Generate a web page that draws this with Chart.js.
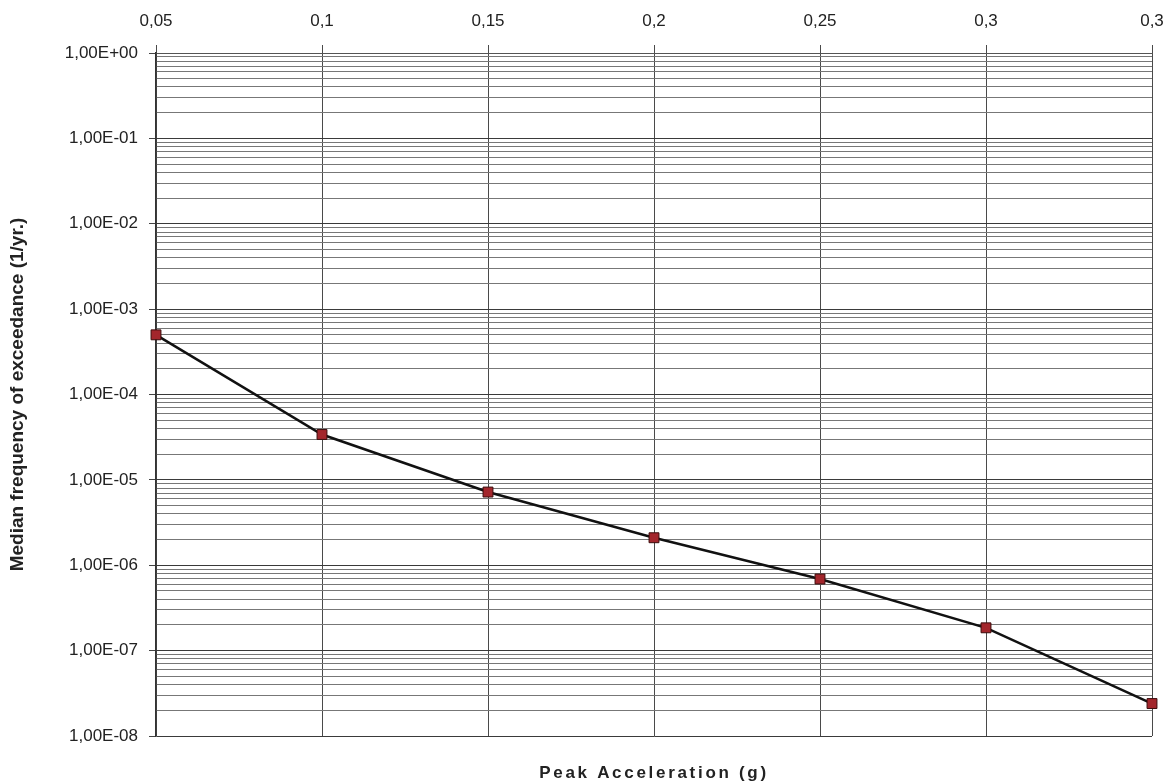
<!DOCTYPE html>
<html>
<head>
<meta charset="utf-8">
<script src="https://cdn.jsdelivr.net/npm/chart.js@4/dist/chart.umd.min.js"></script>
<style>
  html, body { margin: 0; padding: 0; background: #fff; }
  #wrap { width: 1169px; height: 784px; }
</style>
</head>
<body>
<div id="wrap"><canvas id="hazardChart"></canvas></div>
<script>
// peak acceleration labels (as printed on the top axis)
const accelLabels = ["0,05", "0,1", "0,15", "0,2", "0,25", "0,3", "0,3"];
// median frequency of exceedance, 1/yr
const exceedFreq = [5.0e-4, 3.4e-5, 7.2e-6, 2.1e-6, 6.9e-7, 1.85e-7, 2.4e-8];
// y range in decades
const yMin = 1e-8;
const yMax = 1e0;

const fontFam = "'Liberation Sans', Arial, sans-serif";

function isDecade(v) {
  const e = Math.log10(v);
  return Math.abs(e - Math.round(e)) < 1e-6;
}

function fmtSci(v) {
  const e = Math.round(Math.log10(v));
  const sign = e < 0 ? "-" : "+";
  const ee = String(Math.abs(e)).padStart(2, "0");
  return "1,00E" + sign + ee;
}

// x axis title drawn under the plot, with spaced letters like the original
const bottomTitle = {
  id: "bottomTitle",
  afterDraw(chart) {
    const ctx = chart.ctx;
    ctx.save();
    ctx.font = "bold 17px " + fontFam;
    ctx.fillStyle = "#222";
    ctx.textAlign = "center";
    ctx.textBaseline = "middle";
    if ("letterSpacing" in ctx) ctx.letterSpacing = "2.7px";
    ctx.fillText("Peak Acceleration (g)", 654, 773);
    ctx.restore();
  }
};

const ctx = document.getElementById("hazardChart").getContext("2d");

const grafico = new Chart(ctx, {
  type: "line",
  data: {
    labels: accelLabels,
    datasets: [{
      data: exceedFreq,
      borderColor: "#111",
      borderWidth: 2.5,
      pointStyle: "rect",
      pointRadius: 7,
      pointHoverRadius: 7,
      pointBackgroundColor: "#a3262c",
      pointBorderColor: "#3b0c0c",
      pointBorderWidth: 1,
      fill: false,
      tension: 0
    }]
  },
  options: {
    responsive: true,
    maintainAspectRatio: false,
    animation: false,
    layout: { padding: { left: 0, right: 17, top: 0, bottom: 48 } },
    plugins: {
      legend: { display: false },
      tooltip: { enabled: false }
    },
    scales: {
      x: {
        position: "top",
        offset: false,
        grid: {
          color: "#4a4a4a",
          lineWidth: 1,
          tickLength: 8,
          tickColor: "#4a4a4a"
        },
        border: { color: "#555" },
        ticks: {
          color: "#222",
          font: { family: fontFam, size: 17 },
          padding: 13,
          maxRotation: 0,
          autoSkip: false
        },
        afterFit(scale) {
          scale.height = 53;
          // let the last label hang into the margin instead of shrinking the plot
          scale.paddingLeft = 0;
          scale.paddingRight = 0;
        }
      },
      y: {
        type: "logarithmic",
        min: yMin,
        max: yMax,
        afterBuildTicks(scale) {
          // keep 1..9 per decade, like the spreadsheet gridlines
          scale.ticks = scale.ticks.filter(t => {
            const m = t.value / Math.pow(10, Math.floor(Math.log10(t.value) + 1e-9));
            return Math.abs(m - Math.round(m)) < 1e-6;
          });
        },
        grid: {
          color: ctx2 => (ctx2.tick && isDecade(ctx2.tick.value)) ? "#3a3a3a" : "#777",
          lineWidth: 1,
          tickLength: 7,
          tickColor: ctx2 => (ctx2.tick && isDecade(ctx2.tick.value)) ? "#444" : "rgba(0,0,0,0)"
        },
        border: { color: "#333", width: 1.5 },
        ticks: {
          color: "#222",
          font: { family: fontFam, size: 17 },
          padding: 11,
          autoSkip: false,
          callback: function (value) {
            return isDecade(value) ? fmtSci(value) : "";
          }
        },
        title: {
          display: true,
          text: "Median frequency of exceedance (1/yr.)",
          color: "#222",
          font: { family: fontFam, size: 19, weight: "bold" },
          padding: { top: 6, bottom: 0 }
        },
        afterFit(scale) { scale.width = 156; }
      }
    }
  },
  plugins: [bottomTitle]
});
</script>
</body>
</html>
